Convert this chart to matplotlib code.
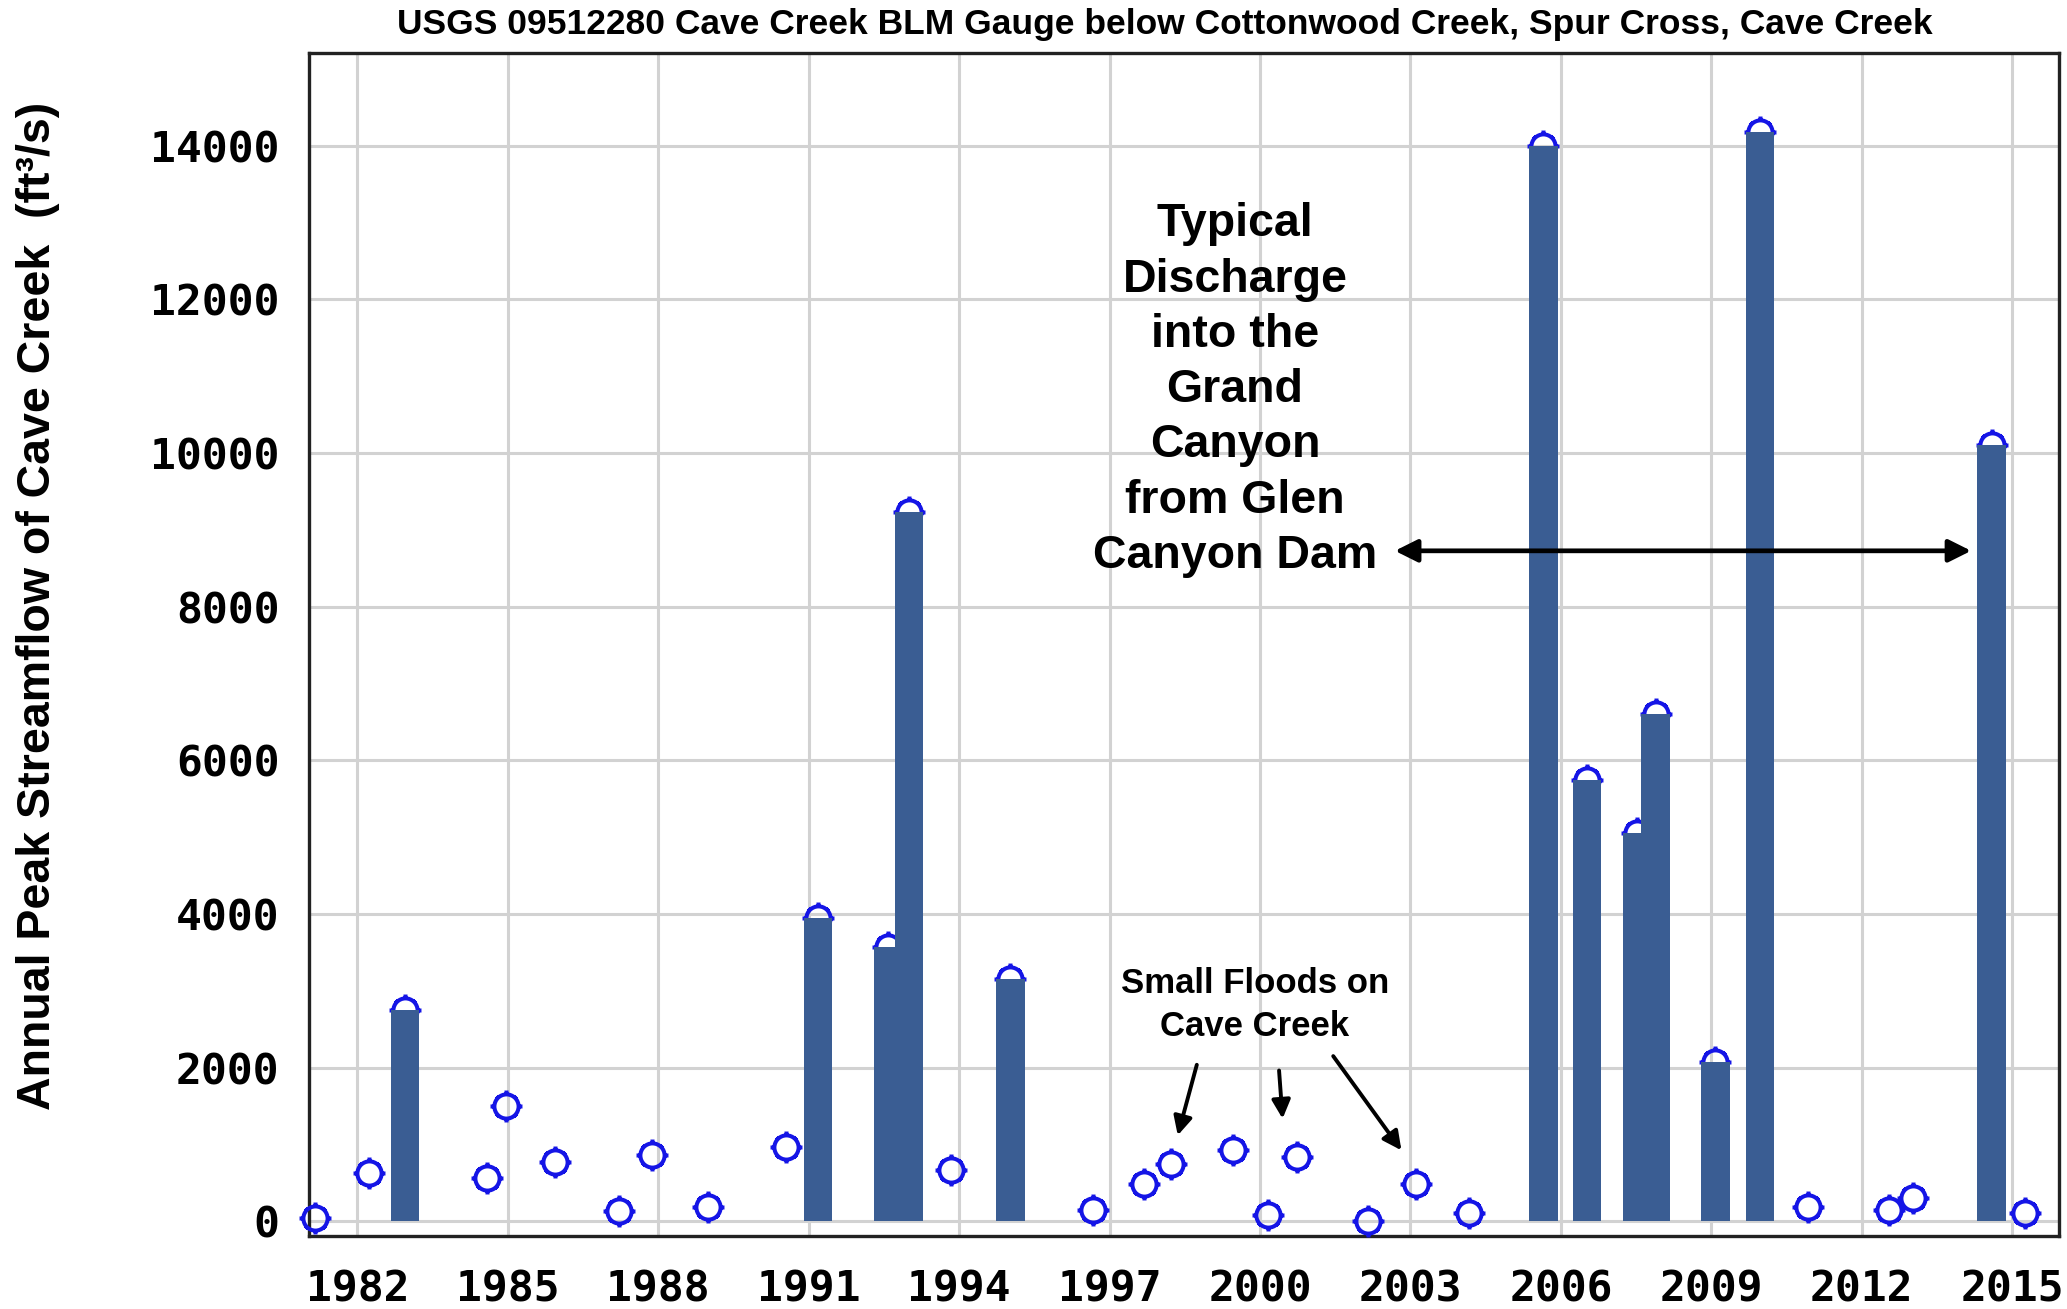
import numpy as np
import matplotlib.pyplot as plt
from matplotlib.path import Path

# Annual peaks (date as decimal year, flow in ft3/s)
peak_year = [1981.16, 1982.23, 1982.95, 1984.59, 1984.97, 1985.94, 1987.21, 1987.87,
             1988.99, 1990.54, 1991.19, 1992.58, 1993.00, 1993.83, 1995.02, 1996.68,
             1997.68, 1998.22, 1999.47, 2000.15, 2000.74, 2002.16, 2003.12, 2004.16,
             2005.65, 2006.52, 2007.52, 2007.89, 2009.08, 2009.97, 2010.93, 2012.55,
             2013.03, 2014.59, 2015.25]
peak_flow = [50, 625, 2750, 570, 1500, 770, 140, 870,
             190, 970, 3950, 3570, 9230, 675, 3150, 150,
             490, 750, 925, 90, 840, 10, 490, 105,
             13990, 5740, 5050, 6600, 2080, 14180, 190, 150,
             300, 10110, 105]

x_ticks = [1982, 1985, 1988, 1991, 1994, 1997, 2000, 2003, 2006, 2009, 2012, 2015]
y_ticks = [0, 2000, 4000, 6000, 8000, 10000, 12000, 14000]

bar_limit = 2000  # peaks above this are drawn as bars
bar_width = 0.57

plt.rcParams['font.family'] = ['Liberation Sans', 'DejaVu Sans']

# circle marker with little nubs round it, like the USGS plot symbol
def seg(a, r0, r1):
    c, s = np.cos(a), np.sin(a)
    return Path([[r0 * c, r0 * s], [r1 * c, r1 * s]], [Path.MOVETO, Path.LINETO])

marker = Path.make_compound_path(
    Path.unit_circle(),
    *[seg(np.pi / 2 * k, 1.0, 1.32) for k in range(4)],
    *[seg(np.pi / 4 + np.pi / 2 * k, 1.0, 1.18) for k in range(4)],
)

def main():
    years = np.array(peak_year)
    flows = np.array(peak_flow)
    big = flows > bar_limit

    fig = plt.figure(figsize=(20.67, 13.09), dpi=100)
    ax = fig.add_axes([0.1493, 0.0554, 0.8468, 0.9043])

    ax.plot(years, flows, linestyle='none', marker=marker, markersize=23,
            markerfacecolor='none', markeredgecolor='#1515e6', markeredgewidth=2.9,
            zorder=3, clip_on=False)
    ax.bar(years[big], flows[big], width=bar_width, color='#3a5d93', zorder=4)

    ax.set_xlim(1981.03, 2015.93)
    ax.set_ylim(-195, 15208)
    ax.set_xticks(x_ticks)
    ax.set_yticks(y_ticks)
    ax.grid(True, color='#d2d2d2', linewidth=2.2)
    ax.set_axisbelow(True)
    for s in ax.spines.values():
        s.set_color('#222222')
        s.set_linewidth(2.4)
    ax.tick_params(axis='x', length=0, pad=23)
    ax.tick_params(axis='y', length=0, pad=21)
    for lab in ax.get_xticklabels() + ax.get_yticklabels():
        lab.set_fontfamily('DejaVu Sans Mono')
        lab.set_fontweight('bold')
        lab.set_fontsize(31)

    fig.text(0.5636, 0.981,
             'USGS 09512280 Cave Creek BLM Gauge below Cottonwood Creek, Spur Cross, Cave Creek',
             ha='center', va='center', fontsize=25.5, fontweight='bold')
    fig.text(0.0185, 0.537, 'Annual Peak Streamflow of Cave Creek  (ft³/s)',
             rotation=90, ha='center', va='center', fontsize=33.5, fontweight='bold')

    # Glen Canyon Dam comparison
    ax.text(1999.5, 10818,
            'Typical\nDischarge\ninto the\nGrand\nCanyon\nfrom Glen\nCanyon Dam',
            ha='center', va='center', fontsize=33.5, fontweight='bold',
            linespacing=1.33, zorder=6)
    ax.annotate('', xy=(2014.18, 8727), xytext=(2002.69, 8727),
                arrowprops=dict(arrowstyle='<|-|>', color='black', lw=3.4,
                                mutation_scale=34, shrinkA=0, shrinkB=0),
                zorder=6)

    # small floods note
    ax.text(1999.9, 2818, 'Small Floods on\nCave Creek', ha='center', va='center',
            fontsize=25, fontweight='bold', linespacing=1.4, zorder=6)
    for (x0, y0), (x1, y1) in [((1998.74, 2039), (1998.36, 1121)),
                               ((2000.38, 1965), (2000.45, 1338)),
                               ((2001.46, 2152), (2002.82, 926))]:
        ax.annotate('', xy=(x1, y1), xytext=(x0, y0),
                    arrowprops=dict(arrowstyle='-|>', color='black', lw=2.8,
                                    mutation_scale=28, shrinkA=0, shrinkB=0),
                    zorder=6)

    fig.savefig('out.png', dpi=100, facecolor='white')

if __name__ == '__main__':
    main()
